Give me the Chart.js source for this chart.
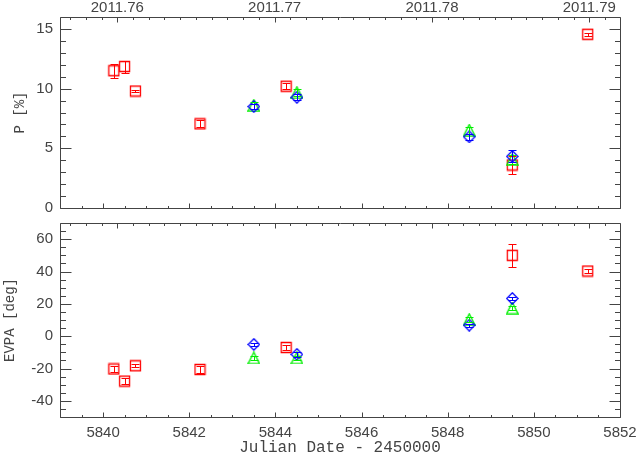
<!DOCTYPE html>
<html lang="en">
<head>
  <meta charset="UTF-8" />
  <title>P and EVPA vs Julian Date</title>
  <script src="https://cdn.jsdelivr.net/npm/chart.js"></script>
  <style>
    html, body { margin: 0; padding: 0; background: #fff; }
    body { width: 638px; height: 457px; position: relative; overflow: hidden; }
    canvas { position: absolute; left: 0; }
    #topPanel { top: 0; }
    #bottomPanel { top: 215px; }
  </style>
</head>
<body>
  <canvas id="topPanel" width="638" height="215"></canvas>
  <canvas id="bottomPanel" width="638" height="242"></canvas>
  <script>
    // values
    const jdRed   = [5840.25, 5840.5, 5840.75, 5842.25, 5844.25, 5849.5, 5851.25];
    const jdBlue  = [5843.5, 5844.5, 5848.5, 5849.5];
    const jdGreen = [5843.5, 5844.5, 5848.5, 5849.5];

    const polRed      = [11.5, 11.85, 9.8, 7.05, 10.2, 3.6, 14.55];
    const polRedErr   = [0.6, 0.5, 0.1, 0.3, 0.25, 0.75, 0.1];
    const polBlue     = [8.5, 9.27, 5.96, 4.32];
    const polBlueErr  = [0.2, 0.25, 0.25, 0.5];
    const polGreen    = [8.6, 9.67, 6.52, 4.06];
    const polGreenErr = [0.3, 0.3, 0.3, 0.4];

    const evpaRed      = [-20.3, -27.8, -18.3, -20.6, -7.0, 50.0, 40.3];
    const evpaRedErr   = [2, 2, 1, 2, 1.5, 7, 1];
    const evpaBlue     = [-5.1, -11.3, 6.8, 23.3];
    const evpaBlueErr  = [1, 1.5, 1, 1];
    const evpaGreen    = [-13.5, -13.5, 10.3, 17.4];
    const evpaGreenErr = [1, 1, 1.5, 1.5];

    // tick labels
    const jdTicks   = [5840, 5842, 5844, 5846, 5848, 5850, 5852];
    const yearTicks = [2011.76, 2011.77, 2011.78, 2011.79];
    const polTicks  = [0, 5, 10, 15];
    const evpaTicks = [-40, -20, 0, 20, 40, 60];

    const jdMin = 5839, jdMax = 5852;
    const yearAt = jd => 2011.76 + (jd - 5840.33) / 365.25;

    const RED = '#ff0000', GREEN = '#00ee00', BLUE = '#0000ff';
    const INK = '#444';
    const tickFont = { family: 'Liberation Sans', size: 15 };

    // IDL-like open symbols
    function marker(kind, color) {
      const c = document.createElement('canvas');
      c.width = 13; c.height = 13;
      const g = c.getContext('2d');
      g.strokeStyle = color;
      g.lineWidth = 1.3;
      g.beginPath();
      if (kind === 'square') {
        g.rect(1.5, 1.5, 10, 10);
      } else if (kind === 'diamond') {
        g.moveTo(6.5, 0.8); g.lineTo(12.2, 6.5); g.lineTo(6.5, 12.2); g.lineTo(0.8, 6.5); g.closePath();
      } else {
        g.moveTo(6.5, 0.8); g.lineTo(12.2, 12.2); g.lineTo(0.8, 12.2); g.closePath();
      }
      g.stroke();
      return c;
    }
    const squareRed = marker('square', RED);
    const diamondBlue = marker('diamond', BLUE);
    const triangleGreen = marker('triangle', GREEN);

    const pts = (xs, ys) => xs.map((x, i) => ({ x: x, y: ys[i] }));

    function series(xs, ys, errs, color, style) {
      return {
        data: pts(xs, ys),
        errors: errs,
        borderColor: color,
        backgroundColor: color,
        pointStyle: style,
        pointRadius: 6,
        showLine: false
      };
    }

    function eachTick(scale, step, every, fn) {
      const i0 = Math.ceil(scale.min / step - 1e-6);
      const i1 = Math.floor(scale.max / step + 1e-6);
      for (let i = i0; i <= i1; i++) fn(Math.round(scale.getPixelForValue(i * step)) + 0.5, i % every === 0);
    }

    // frame + inward ticks on all four sides
    const idlFrame = {
      id: 'idlFrame',
      beforeDatasetsDraw(chart, args, o) {
        const { ctx, chartArea: a, scales } = chart;
        const L = Math.round(a.left) + 0.5, R = Math.round(a.right) + 0.5;
        const T = Math.round(a.top) + 0.5, B = Math.round(a.bottom) + 0.5;
        ctx.save();
        ctx.strokeStyle = INK;
        ctx.lineWidth = 1;
        ctx.beginPath();
        ctx.rect(L, T, R - L, B - T);
        eachTick(scales.x, 0.5, 4, (p, major) => {
          const len = major ? 5 : 2.5;
          ctx.moveTo(p, B); ctx.lineTo(p, B - len);
        });
        eachTick(scales.yr, 0.001, 10, (p, major) => {
          const len = major ? 5 : 2.5;
          ctx.moveTo(p, T); ctx.lineTo(p, T + len);
        });
        eachTick(scales.y, o.yStep, o.yEvery, (p, major) => {
          const len = major ? 11 : 5.5;
          ctx.moveTo(L, p); ctx.lineTo(L + len, p);
          ctx.moveTo(R, p); ctx.lineTo(R - len, p);
        });
        ctx.stroke();
        ctx.restore();
      }
    };

    const errorBars = {
      id: 'errorBars',
      afterDatasetsDraw(chart) {
        const { ctx } = chart;
        const ys = chart.scales.y;
        for (let i = chart.data.datasets.length - 1; i >= 0; i--) {
          const ds = chart.data.datasets[i];
          const meta = chart.getDatasetMeta(i);
          ctx.save();
          ctx.strokeStyle = ds.borderColor;
          ctx.lineWidth = 1;
          ctx.beginPath();
          ds.errors.forEach((e, j) => {
            const x = Math.round(meta.data[j].x) + 0.5;
            const v = ds.data[j].y;
            const top = Math.round(ys.getPixelForValue(v + e)) + 0.5;
            const bot = Math.round(ys.getPixelForValue(v - e)) + 0.5;
            ctx.moveTo(x, top); ctx.lineTo(x, bot);
            ctx.moveTo(x - 4, top); ctx.lineTo(x + 4, top);
            ctx.moveTo(x - 4, bot); ctx.lineTo(x + 4, bot);
          });
          ctx.stroke();
          ctx.restore();
        }
      }
    };

    const setTicks = list => scale => { scale.ticks = list.map(v => ({ value: v })); };
    const noGrid = { display: false, drawTicks: false };
    const plain = v => String(v);

    // fixed box size, and no extra room for overhanging labels
    const fixBox = (w, h) => s => {
      if (w !== null) s.width = w;
      if (h !== null) s.height = h;
      s.paddingTop = 0; s.paddingBottom = 0; s.paddingLeft = 0; s.paddingRight = 0;
    };

    function baseOptions(yStep, yEvery) {
      return {
        animation: false,
        responsive: false,
        events: [],
        layout: { padding: { left: 0, right: 18, top: 0, bottom: 0 } },
        plugins: {
          legend: { display: false },
          tooltip: { enabled: false },
          idlFrame: { yStep: yStep, yEvery: yEvery }
        }
      };
    }

    // top panel: P [%]
    const topOpts = baseOptions(1, 5);
    topOpts.scales = {
      x: {
        type: 'linear', position: 'bottom', min: jdMin, max: jdMax,
        grid: noGrid, border: { display: false },
        ticks: { display: false },
        afterFit: fixBox(null, 3)
      },
      yr: {
        type: 'linear', axis: 'x', position: 'top', min: yearAt(jdMin), max: yearAt(jdMax),
        grid: noGrid, border: { display: false },
        ticks: { padding: 0, font: tickFont, color: INK, maxRotation: 0, autoSkip: false, callback: v => v.toFixed(2) },
        afterBuildTicks: setTicks(yearTicks),
        afterFit: fixBox(null, 17)
      },
      y: {
        type: 'linear', min: 0, max: 16,
        grid: noGrid, border: { display: false },
        ticks: { padding: 7, font: tickFont, color: INK, callback: plain },
        afterBuildTicks: setTicks(polTicks),
        title: { display: true, text: 'P [%]', color: INK, font: { family: 'Liberation Mono', size: 14 }, padding: { top: 12, bottom: 0 } },
        afterFit: fixBox(60, null)
      }
    };

    new Chart(document.getElementById('topPanel'), {
      type: 'scatter',
      data: {
        datasets: [
          series(jdBlue, polBlue, polBlueErr, BLUE, diamondBlue),
          series(jdGreen, polGreen, polGreenErr, GREEN, triangleGreen),
          series(jdRed, polRed, polRedErr, RED, squareRed)
        ]
      },
      options: topOpts,
      plugins: [idlFrame, errorBars]
    });

    // bottom panel: EVPA [deg]
    const botOpts = baseOptions(5, 4);
    botOpts.scales = {
      x: {
        type: 'linear', position: 'bottom', min: jdMin, max: jdMax,
        grid: noGrid, border: { display: false },
        ticks: { padding: 7, font: tickFont, color: INK, maxRotation: 0, autoSkip: false, callback: plain },
        afterBuildTicks: setTicks(jdTicks),
        title: { display: true, text: 'Julian Date - 2450000', color: INK, font: { family: 'Liberation Mono', size: 16 }, padding: { top: 0, bottom: 0 } },
        afterFit: fixBox(null, 40)
      },
      yr: {
        type: 'linear', axis: 'x', position: 'top', min: yearAt(jdMin), max: yearAt(jdMax),
        grid: noGrid, border: { display: false },
        ticks: { display: false },
        afterFit: fixBox(null, 8)
      },
      y: {
        type: 'linear', min: -50, max: 70,
        grid: noGrid, border: { display: false },
        ticks: { padding: 7, font: tickFont, color: INK, callback: plain },
        afterBuildTicks: setTicks(evpaTicks),
        title: { display: true, text: 'EVPA [deg]', color: INK, font: { family: 'Liberation Mono', size: 14 }, padding: { top: 2, bottom: 0 } },
        afterFit: fixBox(60, null)
      }
    };

    new Chart(document.getElementById('bottomPanel'), {
      type: 'scatter',
      data: {
        datasets: [
          series(jdBlue, evpaBlue, evpaBlueErr, BLUE, diamondBlue),
          series(jdGreen, evpaGreen, evpaGreenErr, GREEN, triangleGreen),
          series(jdRed, evpaRed, evpaRedErr, RED, squareRed)
        ]
      },
      options: botOpts,
      plugins: [idlFrame, errorBars]
    });
  </script>
</body>
</html>
